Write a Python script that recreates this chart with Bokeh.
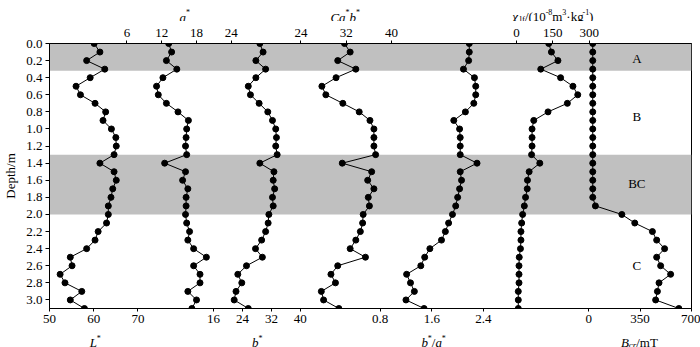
from bokeh.plotting import figure
from bokeh.layouts import column
from bokeh.models import Range1d, LinearAxis, FixedTicker, BoxAnnotation, Label, PrintfTickFormatter
from bokeh.embed import file_html
from bokeh.resources import INLINE

# ---------------- data ----------------
depth = [0.0, 0.1, 0.2, 0.3, 0.4, 0.5, 0.6, 0.7, 0.8, 0.9, 1.0, 1.1, 1.2, 1.3, 1.4, 1.5,
         1.6, 1.7, 1.8, 1.9, 2.0, 2.1, 2.2, 2.3, 2.4, 2.5, 2.6, 2.7, 2.8, 2.9, 3.0, 3.1]
L_star = [60.1, 61.4, 58.4, 62.5, 59.2, 56.0, 57.0, 60.3, 62.7, 62.1, 64.0, 65.0, 65.1, 64.6, 61.4, 64.6,
          65.1, 64.3, 63.9, 63.3, 63.3, 62.9, 61.0, 60.3, 58.4, 54.7, 55.1, 52.4, 53.5, 57.3, 54.7, 57.9]
a_star = [13.2, 13.7, 12.8, 14.6, 12.2, 11.1, 11.4, 12.8, 14.8, 16.6, 16.3, 16.2, 16.1, 16.3, 12.5, 16.1,
          15.6, 16.5, 16.2, 16.2, 16.1, 16.3, 16.8, 16.5, 17.5, 19.7, 17.5, 18.6, 18.6, 16.5, 18.0, 17.2]
b_star = [28.8, 29.7, 27.7, 30.4, 27.7, 25.6, 26.2, 28.6, 31.0, 32.3, 33.2, 33.4, 33.2, 33.6, 28.8, 32.7,
          32.5, 32.9, 32.3, 32.5, 31.3, 31.1, 30.4, 29.3, 27.6, 29.5, 25.1, 22.7, 23.8, 22.2, 21.7, 25.6]
chroma = [31.7, 32.7, 30.5, 33.7, 30.2, 27.7, 28.4, 31.4, 34.3, 36.2, 36.9, 36.9, 36.9, 37.2, 31.3, 36.5,
          35.8, 36.9, 35.9, 36.1, 35.0, 34.9, 34.5, 33.7, 32.7, 35.4, 30.5, 29.3, 30.1, 27.6, 28.0, 30.7]
b_over_a = [2.18, 2.18, 2.17, 2.09, 2.26, 2.28, 2.28, 2.25, 2.12, 1.94, 2.03, 2.04, 2.04, 2.04, 2.30, 2.04,
            2.06, 2.03, 2.00, 1.97, 1.92, 1.86, 1.81, 1.75, 1.57, 1.49, 1.43, 1.21, 1.27, 1.33, 1.20, 1.48]
chi_lf = [133, 144, 171, 100, 182, 233, 253, 210, 130, 71, 64, 64, 64, 62, 96, 52,
          45, 44, 37, 32, 25, 21, 18, 18, 16, 11, 10, 10, 10, 7, 7, 7]
B_cr = [28, 28, 28, 28, 28, 28, 28, 28, 28, 28, 28, 28, 28, 28, 28, 28,
        28, 28, 28, 46, 226, 314, 434, 463, 517, 463, 490, 558, 479, 468, 456, 614]

bands = [(0.0, 0.32), (1.3, 2.0)]
horizon_names = ["A", "B", "BC", "C"]
horizon_depths = [0.18, 0.85, 1.64, 2.6]

depth_ticks = [0.0, 0.2, 0.4, 0.6, 0.8, 1.0, 1.2, 1.4, 1.6, 1.8, 2.0, 2.2, 2.4, 2.6, 2.8, 3.0]
bottom_ticks = {"L": [50, 60, 70], "b": [16, 24, 32, 40], "ba": [0.8, 1.6, 2.4], "B": [0, 350, 700]}
bottom_tick_labels = {"L": ["50", "60", "70"], "b": ["16", "24", "32", "40"],
                      "ba": ["0.8", "1.6", "2.4"], "B": ["0", "350", "700"]}
top_ticks = {"a": [6, 12, 18, 24], "C": [24, 32, 40], "chi": [0, 150, 300]}
top_tick_labels = {"a": ["6", "12", "18", "24"], "C": ["24", "32", "40"], "chi": ["0", "150", "300"]}

# each variable's own x scale (value limits across the shared frame)
x_limits = {
    "L": (50.0, 195.17),
    "a": (-7.376, 103.43),
    "b": (-29.44, 148.32),
    "C": (-20.47, 93.06),
    "ba": (-4.318, 5.620),
    "chi": (-1931.8, 723.4),
    "B": (-3669.0, 700.0),
}

FONT = "Liberation Serif"
W = 700
TOP_H, MAIN_H, BOT_H = 21, 308, 18
BL, BR = 45, 9          # left / right borders shared by all three stacked figures
FL, FR = 45.0, 691.0    # base x range (page pixels across the frame)

p = figure(width=W, height=MAIN_H, output_backend="svg", toolbar_location=None,
           x_range=Range1d(FL, FR), y_range=Range1d(3.1, 0.0),
           min_border_left=BL, min_border_right=BR, min_border_top=22, min_border_bottom=21)
p.title.visible = False
p.extra_x_ranges = {k: Range1d(*v) for k, v in x_limits.items()}
p.xgrid.visible = False
p.ygrid.visible = False
p.outline_line_color = "black"
p.outline_line_width = 1
p.background_fill_color = "white"
p.border_fill_color = "white"

for top, bottom in bands:
    p.add_layout(BoxAnnotation(top=top, bottom=bottom, fill_color="#c0c0c0", fill_alpha=1.0,
                               line_alpha=0, level="underlay"))

series = [("L", L_star), ("a", a_star), ("b", b_star), ("C", chroma),
          ("ba", b_over_a), ("chi", chi_lf), ("B", B_cr)]
for name, vals in series:
    p.line(vals, depth, x_range_name=name, line_color="black", line_width=1)
    p.scatter(vals, depth, x_range_name=name, size=6, fill_color="black", line_color="black")


def base_pos(name, v):
    s, e = x_limits[name]
    return round(FL + (v - s) / (e - s) * (FR - FL), 3)


def make_ticks(tickdict, labeldict):
    pos, over = [], {}
    for name in tickdict:
        for v, lab in zip(tickdict[name], labeldict[name]):
            x = min(max(base_pos(name, v), FL), FR)
            pos.append(x)
            over[x] = lab
    return pos, over


def style_axis(ax, standoff):
    ax.axis_line_color = "black"
    ax.major_tick_line_color = "black"
    ax.minor_tick_line_color = None
    ax.major_tick_in = 0
    ax.major_tick_out = 3
    ax.major_label_text_font = FONT
    ax.major_label_text_font_size = "13px"
    ax.major_label_text_color = "black"
    ax.major_label_standoff = standoff


bpos, bover = make_ticks(bottom_ticks, bottom_tick_labels)
xa = p.xaxis[0]
xa.ticker = FixedTicker(ticks=bpos)
xa.major_label_overrides = bover
style_axis(xa, 3)

tpos, tover = make_ticks(top_ticks, top_tick_labels)
ta = LinearAxis(ticker=FixedTicker(ticks=tpos), major_label_overrides=tover)
style_axis(ta, 4)
p.add_layout(ta, "above")

ya = p.yaxis[0]
ya.ticker = FixedTicker(ticks=depth_ticks)
ya.formatter = PrintfTickFormatter(format="%.1f")
style_axis(ya, 3)
ya.major_tick_out = 4
ya.axis_label = "Depth/m"
ya.axis_label_text_font = FONT
ya.axis_label_text_font_size = "13px"
ya.axis_label_text_font_style = "normal"
ya.axis_label_text_color = "black"
ya.axis_label_standoff = 5

for name, d in zip(horizon_names, horizon_depths):
    p.add_layout(Label(x=636, y=d, text=name, text_font=FONT, text_font_size="13px",
                       text_color="black", text_align="center", text_baseline="middle"))


# ---------------- title strips (above and below the chart) ----------------
def strip(height, y0):
    f = figure(width=W, height=height, output_backend="svg", toolbar_location=None,
               x_range=Range1d(FL, FR), y_range=Range1d(y0 + height, y0),
               x_axis_type=None, y_axis_type=None,
               min_border_left=BL, min_border_right=BR, min_border_top=0, min_border_bottom=0)
    f.title.visible = False
    f.outline_line_color = None
    f.background_fill_color = "white"
    f.border_fill_color = "white"
    return f


top_fig = strip(TOP_H, 0)
bot_fig = strip(BOT_H, TOP_H + MAIN_H)

REG = {'*': .5, '/': .278, '(': .333, ')': .333, 'm': .778, 'k': .5, 'g': .5, '·': .25, '-': .333,
       'T': .611, 'c': .444, 'r': .333, 'l': .278, 'f': .333}
ITA = {'a': .5, 'b': .5, 'C': .667, 'L': .556, 'B': .611, 'χ': .55, 'c': .444, 'r': .389,
       'l': .278, 'f': .278, '/': .278}


def tw(text, size, style):
    tab = ITA if style == "italic" else REG
    return sum(tab.get(ch, .5) for ch in text) * size


def rich(f, parts, cx, base):
    total = sum(tw(t, s, st) for t, s, st, _ in parts)
    x = cx - total / 2
    for t, s, st, dy in parts:
        f.add_layout(Label(x=x, y=base - dy, text=t, text_font=FONT,
                           text_font_size=f"{s}px", text_font_style=st, text_color="black",
                           text_align="left", text_baseline="alphabetic"))
        x += tw(t, s, st)


def star(letter, raise_by=5):
    return [(letter, 13, "italic", 0), ("*", 8, "normal", raise_by)]


TB = 17.0
rich(top_fig, star("a"), 181, TB)
rich(top_fig, [("C", 13, "italic", 0)] + star("a") + star("b"), 342.5, TB)
rich(top_fig, [("χ", 13, "italic", 0), ("lf", 9, "normal", -2), ("/(10", 13, "normal", 0),
               ("-8", 8, "normal", 5), ("m", 13, "normal", 0), ("3", 8, "normal", 5),
               ("·kg", 13, "normal", 0), ("-1", 8, "normal", 5), (")", 13, "normal", 0)], 551.5, 16.0)

BB = 342.0
rich(bot_fig, star("L", 4), 91, BB)
rich(bot_fig, star("b", 4), 254, BB)
rich(bot_fig, star("b", 4) + [("/", 13, "normal", 0)] + star("a", 4), 431.5, BB)
rich(bot_fig, [("B", 13, "italic", 0), ("cr", 9, "italic", -2), ("/mT", 13, "normal", 0)], 638.5, BB)

layout = column(top_fig, p, bot_fig, spacing=0)
open("out.html", "w").write(file_html(layout, INLINE))
